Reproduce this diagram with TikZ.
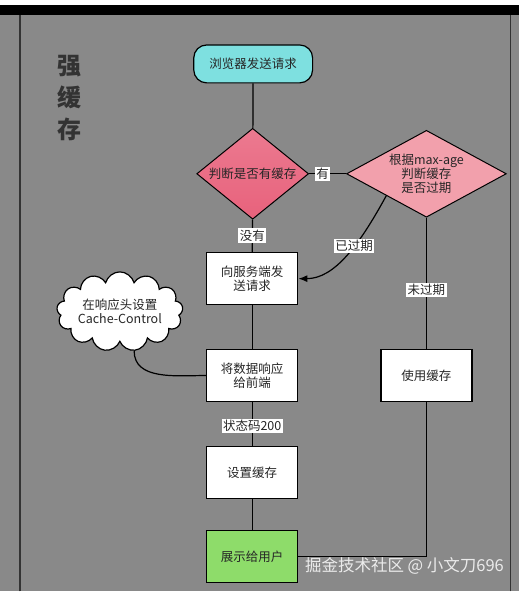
\documentclass[tikz,border=0pt]{standalone}
\usepackage{fontspec}
\setmainfont{Noto Sans CJK SC}
\usetikzlibrary{shapes.geometric,shapes.symbols,arrows.meta}
\definecolor{bggray}{HTML}{898989}
\definecolor{startcyan}{HTML}{7EE0E0}
\definecolor{redpink}{HTML}{E8627C}
\definecolor{lightpink}{HTML}{F2A0AC}
\definecolor{showgreen}{HTML}{8EDC6A}

\begin{document}
\begin{tikzpicture}[x=1pt, y=1pt, every node/.style={font=\fontsize{12.5}{14}\selectfont, text=black!85},
  box/.style={draw, line width=1.5pt, fill=white, minimum width=91pt, minimum height=52pt, align=center, inner sep=2pt},
  check/.style={diamond, draw, line width=1pt, align=center, inner sep=0pt},
  tag/.style={fill=white, inner sep=1.5pt},
  link/.style={line width=1.2pt}]
% background and frame
\fill[white] (0,0) rectangle (520,592);
\fill[bggray] (0,0) rectangle (520,577);
\fill[black] (0,577) rectangle (520,587);
\draw[line width=1.5pt, black!80] (20,0) -- (20,577);
\draw[line width=1.5pt, black!80] (511,0) -- (511,577);

\node[font=\fontsize{24}{32}\selectfont\bfseries, text=black!80, align=center] (title) at (70,494) {强\\缓\\存};

\node[draw, line width=1.2pt, rounded corners=13pt, fill=startcyan, minimum width=119pt, minimum height=38pt] (start) at (253.5,528) {浏览器发送请求};
\node[check, aspect=1.23, top color=redpink!85!white, bottom color=redpink, minimum width=112pt, minimum height=91pt] (d1) at (253,418) {判断是否有缓存};
\node[check, aspect=1.84, fill=lightpink, minimum width=160pt, minimum height=87pt] (d2) at (427,418) {根据max-age\\判断缓存\\是否过期};
\node[box] (b1) at (252.5,313) {向服务端发\\送请求};
\node[box] (b2) at (252.5,216) {将数据响应\\给前端};
\node[box] (b3) at (252.5,119) {设置缓存};
\node[box, fill=showgreen] (b4) at (252.5,35) {展示给用户};
\node[box] (b5) at (427,216) {使用缓存};
\node[cloud, draw, line width=1.2pt, fill=white, cloud puffs=13, aspect=2, minimum width=110pt, minimum height=58pt, align=center, inner sep=0pt] (cl) at (120,280) {在响应头设置\\Cache-Control};

\draw[link] (start) -- (d1);
\draw[link] (d1) -- (d2) node[midway, tag, xshift=-5pt] (has) {有};
\draw[link] (d1) -- (b1) node[midway, tag] (none) {没有};
\draw[link, -{Latex[length=9pt, width=7pt]}] (d2.south west) .. controls (360,347) and (335,313) .. (b1.east) node[pos=0.4, tag] (expired) {已过期};
\draw[link] (d2) -- (b5) node[pos=0.55, tag] (valid) {未过期};
\draw[link] (b1) -- (b2);
\draw[link] (cl.290) to[out=-90, in=180] (b2.west);
\draw[link] (b2) -- (b3) node[midway, tag, yshift=-2pt] (code) {状态码200};
\draw[link] (b3) -- (b4);
\draw[link] (b5) |- (b4);

\node[font=\fontsize{16.5}{19}\selectfont, text=white!92!black, anchor=west] (mark) at (302,25) {掘金技术社区 @ 小文刀696};
\end{tikzpicture}
\end{document}
